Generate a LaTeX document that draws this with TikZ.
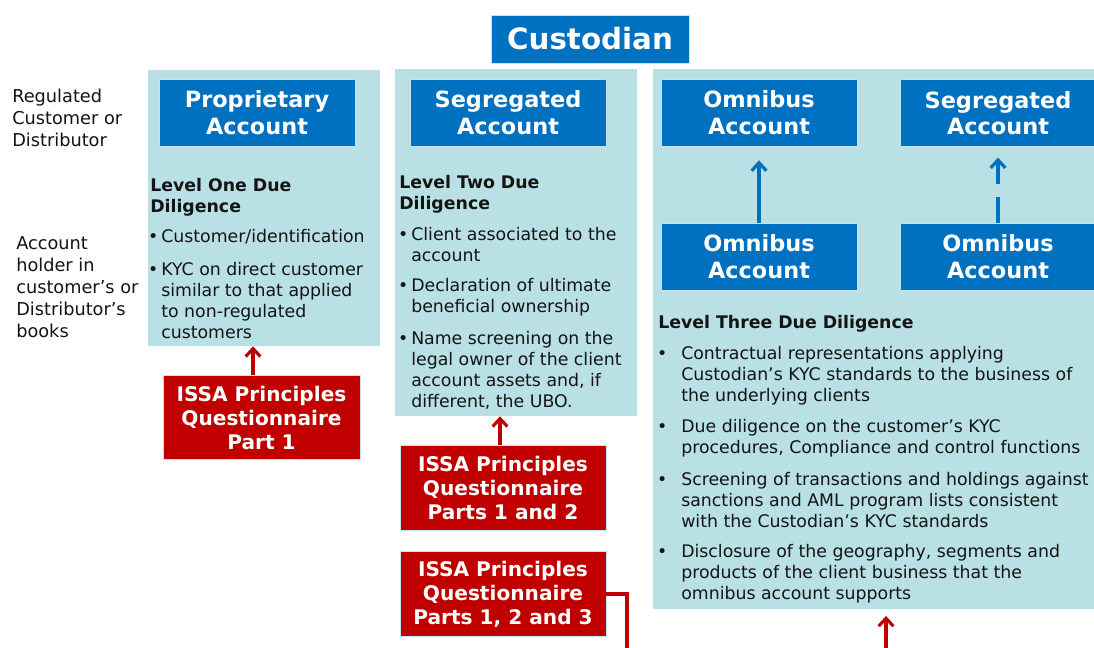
\documentclass[tikz,border=0pt]{standalone}
\usepackage{fontspec}
\setmainfont{DejaVu Sans}
\usetikzlibrary{arrows.meta}
\definecolor{cblue}{RGB}{0,112,192}
\definecolor{cred}{RGB}{192,0,0}
\definecolor{cteal}{RGB}{185,224,228}
\definecolor{cedge}{RGB}{196,228,236}
\definecolor{ctext}{RGB}{20,20,20}
\begin{document}
\begin{tikzpicture}[x=0.75pt,y=-0.75pt,
  column/.style={fill=cteal,draw=none,inner sep=0pt},
  bluebox/.style={fill=cblue,draw=cedge,line width=0.6pt,text=white,
    font=\bfseries\fontsize{16.8}{20}\selectfont,align=center,inner sep=0pt,
    minimum width=147pt,minimum height=50.25pt},
  redbox/.style={fill=cred,draw=cedge,line width=0.6pt,text=white,
    font=\bfseries\fontsize{15.1}{18}\selectfont,align=center,inner sep=0pt,
    minimum height=63.5pt},
  txt/.style={anchor=north west,inner sep=0pt,align=left,text=ctext,
    font=\fontsize{13}{15.75}\selectfont},
  txtb/.style={txt,font=\bfseries\fontsize{13}{15.75}\selectfont},
  lbl/.style={txt,font=\fontsize{13.3}{16.5}\selectfont},
  bluearrow/.style={draw=cblue,line width=2.4pt,-{Straight Barb[length=6pt,width=11pt]}},
  redarrow/.style={draw=cred,line width=2.3pt,-{Straight Barb[length=6pt,width=11pt]}}]
\useasboundingbox (0,0) rectangle (1094,648);
\clip (0,0) rectangle (1094,648);
\fill[white] (0,0) rectangle (1094,648);

% columns
\node[column,minimum width=174pt,minimum height=207pt] (col1) at (264,208) {};
\node[column,minimum width=181.5pt,minimum height=260.25pt] (col2) at (516,242.5) {};
\node[column,minimum width=335.25pt,minimum height=405pt] (col3) at (876.5,339) {};

% custodian
\node[bluebox,minimum width=148.5pt,minimum height=36pt,
  font=\bfseries\fontsize{22}{26}\selectfont] (cust) at (590,39) {Custodian};

% blue account boxes
\node[bluebox] (prop) at (257,112.5) {Proprietary\\Account};
\node[bluebox] (seg1) at (508,112.5) {Segregated\\Account};
\node[bluebox] (omn1) at (759,112.5) {Omnibus\\Account};
\node[bluebox] (seg2) at (998,113) {Segregated\\Account};
\node[bluebox] (omn2) at (759,256.5) {Omnibus\\Account};
\node[bluebox] (omn3) at (998,256.5) {Omnibus\\Account};

\draw[bluearrow,shorten >=10.5pt] (omn2.north) -- (omn1.south);
\draw[bluearrow,shorten >=8pt,dash pattern=on 19.5pt off 9.75pt] (omn3.north) -- (seg2.south);

% side labels
\node[lbl] (l1) at (12,89) {Regulated\\Customer or\\Distributor};
\node[lbl] (l2) at (16,236) {Account\\holder in\\customer’s or\\Distributor’s\\books};

% column 1 text
\node[txtb] (h1) at (150,178) {Level One Due\\Diligence};
\node[txt] (b11) at (161,229) {\llap{•\hspace{2.2pt}}Customer/identification};
\node[txt] (b12) at (161,262) {\llap{•\hspace{2.2pt}}KYC on direct customer\\similar to that applied\\to non-regulated\\customers};

% column 2 text
\node[txtb] (h2) at (399,175) {Level Two Due\\Diligence};
\node[txt] (b21) at (411,227) {\llap{•\hspace{2.2pt}}Client associated to the\\account};
\node[txt] (b22) at (411,278) {\llap{•\hspace{2.2pt}}Declaration of ultimate\\beneficial ownership};
\node[txt] (b23) at (411,331) {\llap{•\hspace{2.2pt}}Name screening on the\\legal owner of the client\\account assets and, if\\different, the UBO.};

% column 3 text
\node[txtb] (h3) at (658,315) {Level Three Due Diligence};
\node[txt] (b31) at (681,346) {\llap{•\hspace{10.5pt}}Contractual representations applying\\Custodian’s KYC standards to the business of\\the underlying clients};
\node[txt] (b32) at (681,419) {\llap{•\hspace{10.5pt}}Due diligence on the customer’s KYC\\procedures, Compliance and control functions};
\node[txt] (b33) at (681,472) {\llap{•\hspace{10.5pt}}Screening of transactions and holdings against\\sanctions and AML program lists consistent\\with the Custodian’s KYC standards};
\node[txt] (b34) at (681,544) {\llap{•\hspace{10.5pt}}Disclosure of the geography, segments and\\products of the client business that the\\omnibus account supports};

% red questionnaire boxes
\node[redbox,minimum width=147.75pt] (q1) at (261.5,417.5) {ISSA Principles\\Questionnaire\\Part 1};
\node[redbox,minimum width=154.5pt] (q2) at (503,488) {ISSA Principles\\Questionnaire\\Parts 1 and 2};
\node[redbox,minimum width=154.5pt] (q3) at (503,594) {ISSA Principles\\Questionnaire\\Parts 1, 2 and 3};

\coordinate (a1) at (253,0);
\coordinate (a2) at (500,0);
\coordinate (b1) at (627,700);
\coordinate (b2) at (886,700);
\draw[redarrow] (a1 |- q1.north) -- (a1 |- col1.south);
\draw[redarrow] (a2 |- q2.north) -- (a2 |- col2.south);
\draw[redarrow,shorten >=5pt] (q3.east) -| (b1) -- (b2) -- (b2 |- col3.south);
\end{tikzpicture}
\end{document}
